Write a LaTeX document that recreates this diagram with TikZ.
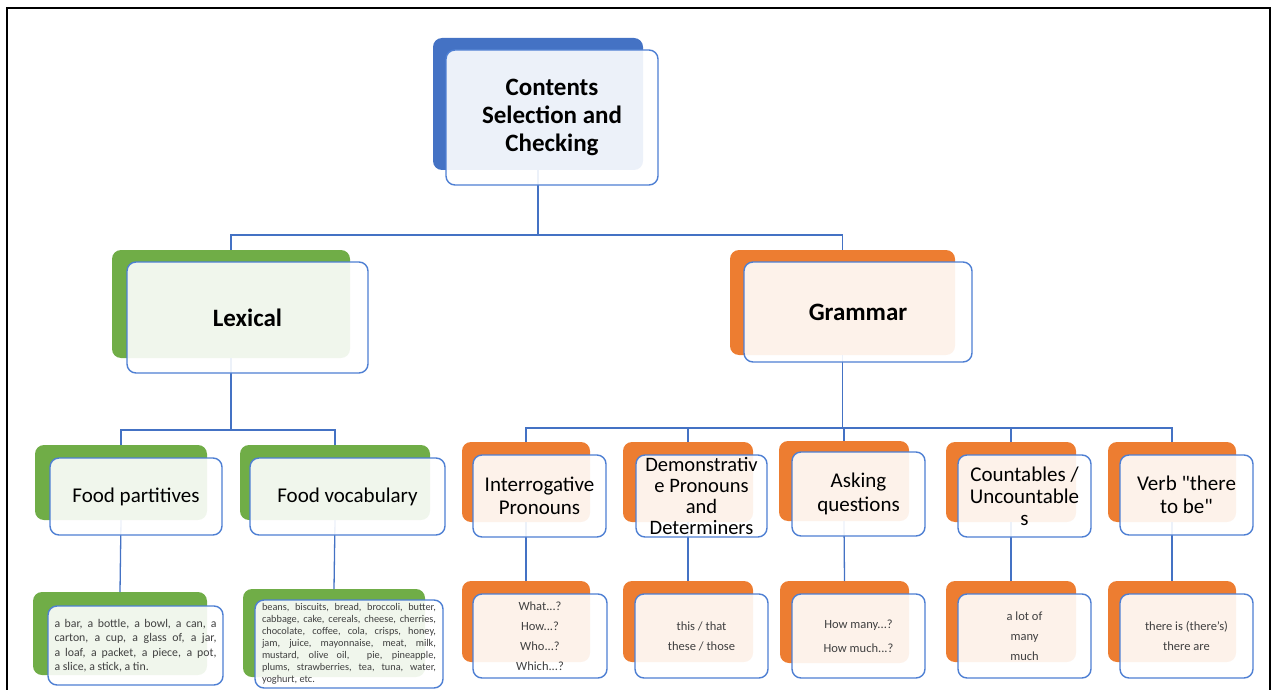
\documentclass[tikz,border=0pt]{standalone}
\usepackage{fontspec}
\setmainfont{Carlito}
% same family without the TeX quote mapping, for straight quotes
\newfontfamily\plainfont{Carlito}
\definecolor{accentblue}{HTML}{4472C4}
\definecolor{accentgreen}{HTML}{70AD47}
\definecolor{accentorange}{HTML}{ED7D31}
\definecolor{edgeblue}{HTML}{4E7FD3}
\definecolor{leaftext}{HTML}{404040}

% a rounded plate given by its left, right, top and bottom edges
\newcommand\plate[7]{\node[#6, minimum width={#3-#2}, minimum height={#5-#4}] (#1) at ({(#2+#3)/2},{(#4+#5)/2}) {#7};}

\begin{document}
\begin{tikzpicture}[x=1pt, y=-1pt,
  box/.style={rectangle, rounded corners=9pt, inner sep=0pt, outer sep=0pt},
  backbox/.style={box, fill=#1},
  frontbox/.style={box, draw=edgeblue, line width=1.4pt, fill=white, fill opacity=0.9, text opacity=1, align=center},
  bigtext/.style={font=\fontsize{25}{28}\selectfont\bfseries},
  midtext/.style={font=\fontsize{21}{23.5}\selectfont},
  leaf/.style={font=\fontsize{12.5}{20}\selectfont, text=leaftext},
  link/.style={draw=accentblue, line width=1.3pt}
]
\useasboundingbox (0,0) rectangle (1272,690);

% page frame
\draw[line width=2pt] (7,690) -- (7,8) -- (1270,8) -- (1270,690);

% ---- coloured back plates ----
\plate{topb}{433}{643}{38}{170}{backbox=accentblue}{}
\plate{lexb}{112}{350}{250}{358}{backbox=accentgreen}{}
\plate{grab}{730}{955}{250}{355}{backbox=accentorange}{}

\plate{fpb}{35}{207}{445}{520}{backbox=accentgreen}{}
\plate{fvb}{240}{430}{445}{520}{backbox=accentgreen}{}
\plate{ipb}{462}{590}{442}{522}{backbox=accentorange}{}
\plate{dpb}{623}{753}{442}{522}{backbox=accentorange}{}
\plate{aqb}{779}{909}{441}{521}{backbox=accentorange}{}
\plate{cub}{946}{1076}{442}{522}{backbox=accentorange}{}
\plate{vbb}{1108}{1236}{442}{522}{backbox=accentorange}{}

\plate{fplb}{33}{207}{592}{675}{backbox=accentgreen}{}
\plate{fvlb}{243}{425}{589}{677}{backbox=accentgreen}{}
\plate{iplb}{462}{590}{581}{662}{backbox=accentorange}{}
\plate{dplb}{623}{753}{581}{662}{backbox=accentorange}{}
\plate{aqlb}{780}{909}{581}{663}{backbox=accentorange}{}
\plate{culb}{946}{1076}{581}{662}{backbox=accentorange}{}
\plate{vblb}{1108}{1236}{581}{662}{backbox=accentorange}{}

% ---- connectors ----
\coordinate (bus0) at (538,235);
\coordinate (bus1) at (232,430);
\coordinate (bus2) at (845,428);
\draw[link] (topb.south) -- (topb.south |- bus0) -| (lexb.north);
\draw[link] (topb.south |- bus0) -| (grab.north);
\draw[link] (lexb.south) -- (lexb.south |- bus1) -| (fpb.north);
\draw[link] (lexb.south |- bus1) -| (fvb.north);
\draw[link] (grab.south) -- (grab.south |- bus2) -| (ipb.north);
\foreach \c in {dpb,aqb,cub,vbb} \draw[link] (grab.south |- bus2) -| (\c.north);
\draw[link] (fpb.south) -- (fplb.north);
\draw[link] (fvb.south) -- (fvlb.north);
\draw[link] (ipb.south) -- (iplb.north);
\draw[link] (dpb.south) -- (dplb.north);
\draw[link] (aqb.south) -- (aqlb.north);
\draw[link] (cub.south) -- (culb.north);
\draw[link] (vbb.south) -- (vblb.north);

% ---- framed front plates with their texts ----
\plate{topf}{446}{658}{50}{185}{frontbox, bigtext}{Contents\\Selection and\\Checking}
\plate{lexf}{127}{368}{262}{373}{frontbox, bigtext}{Lexical}
\plate{graf}{744}{972}{262}{362}{frontbox, bigtext}{Grammar}

\plate{fpf}{50}{222}{458}{535}{frontbox, midtext}{Food partitives}
\plate{fvf}{250}{445}{458}{535}{frontbox, midtext}{Food vocabulary}
\plate{ipf}{473}{606}{455}{537}{frontbox, midtext}{Interrogative\\Pronouns}
\plate{dpf}{636}{767}{455}{537}{frontbox, font=\fontsize{20.5}{21}\selectfont}{Demonstrativ\\e Pronouns\\and\\Determiners}
\plate{aqf}{792}{925}{452}{536}{frontbox, midtext}{Asking\\questions}
\plate{cuf}{958}{1091}{455}{537}{frontbox, font=\fontsize{21}{22}\selectfont}{Countables /\\Uncountable\\s}
\plate{vbf}{1120}{1253}{455}{535}{frontbox, font=\plainfont\fontsize{21}{23.5}\selectfont}{Verb "there\\to be"}

\plate{fplf}{48}{223}{606}{685}{frontbox, font=\fontsize{11.8}{14.5}\selectfont, text=leaftext}{%
\makebox[162pt][s]{a bar, a bottle, a bowl, a can, a}\\
\makebox[162pt][s]{carton, a cup, a glass of, a jar,}\\
\makebox[162pt][s]{a loaf, a packet, a piece, a pot,}\\
\makebox[162pt][l]{a slice, a stick, a tin.}}
\plate{fvlf}{255}{443}{600}{688}{frontbox, font=\fontsize{10.3}{12}\selectfont, text=leaftext}{%
\makebox[174pt][s]{beans, biscuits, bread, broccoli, butter,}\\
\makebox[174pt][s]{cabbage, cake, cereals, cheese, cherries,}\\
\makebox[174pt][s]{chocolate, coffee, cola, crisps, honey,}\\
\makebox[174pt][s]{jam, juice, mayonnaise, meat, milk,}\\
\makebox[174pt][s]{mustard, olive oil, \ pie, pineapple,}\\
\makebox[174pt][s]{plums, strawberries, tea, tuna, water,}\\
\makebox[174pt][l]{yoghurt, etc.}}
\plate{iplf}{473}{607}{594}{678}{frontbox, leaf}{What...?\\How...?\\Who...?\\Which...?}
\plate{dplf}{635}{768}{594}{678}{frontbox, leaf}{this / that\\these / those}
\plate{aqlf}{792}{925}{594}{678}{frontbox, font=\fontsize{12.5}{24}\selectfont, text=leaftext}{How many...?\\How much...?}
\plate{culf}{958}{1091}{594}{678}{frontbox, leaf}{a lot of\\many\\much}
\plate{vblf}{1120}{1253}{594}{678}{frontbox, leaf}{there is (there's)\\there are}

\end{tikzpicture}
\end{document}
